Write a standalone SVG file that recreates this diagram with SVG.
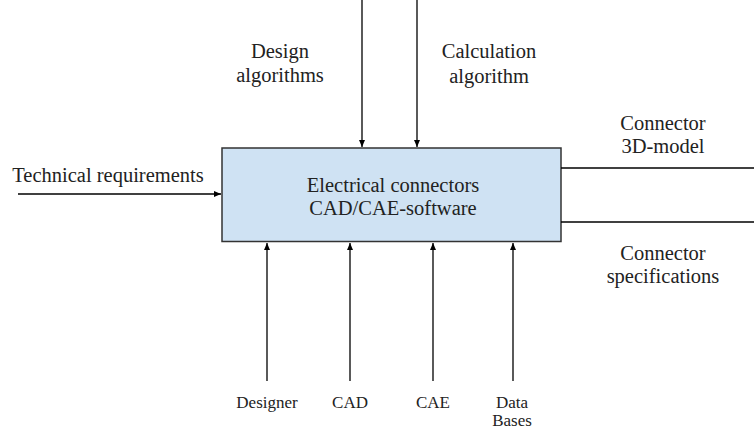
<svg xmlns="http://www.w3.org/2000/svg" width="754" height="430" viewBox="0 0 754 430">
<defs>
<marker id="arr" markerWidth="8" markerHeight="8" refX="7" refY="4" orient="auto" markerUnits="userSpaceOnUse">
<path d="M0,1 L7,4 L0,7 Z" fill="#000"/>
</marker>
<style>
.t{font-family:"Liberation Serif","Times New Roman",serif;font-size:20.5px;fill:#222;text-anchor:middle}
.s{font-family:"Liberation Serif","Times New Roman",serif;font-size:17px;fill:#222;text-anchor:middle}
.c{stroke:#000;stroke-width:1.3;fill:none}
</style>
</defs>
<rect width="754" height="430" fill="#fff"/>
<g id="main">
<rect x="222" y="148" width="339" height="93.5" fill="#cfe2f3" stroke="#333" stroke-width="1.5"/>
<text class="t" x="393" y="192">Electrical connectors</text>
<text class="t" x="393" y="215">CAD/CAE-software</text>
</g>
<g id="connectors">
<line class="c" x1="362" y1="0" x2="362" y2="147" marker-end="url(#arr)"/>
<line class="c" x1="417" y1="0" x2="417" y2="147" marker-end="url(#arr)"/>
<line class="c" x1="18" y1="194" x2="221" y2="194" marker-end="url(#arr)"/>
<line class="c" x1="561" y1="168" x2="754" y2="168"/>
<line class="c" x1="561" y1="222" x2="754" y2="222"/>
<line class="c" x1="267" y1="381" x2="267" y2="243" marker-end="url(#arr)"/>
<line class="c" x1="350" y1="381" x2="350" y2="243" marker-end="url(#arr)"/>
<line class="c" x1="433" y1="381" x2="433" y2="243" marker-end="url(#arr)"/>
<line class="c" x1="513" y1="381" x2="513" y2="243" marker-end="url(#arr)"/>
</g>
<g id="labels">
<text class="t" x="280" y="58">Design</text>
<text class="t" x="280" y="82">algorithms</text>
<text class="t" x="489" y="58">Calculation</text>
<text class="t" x="489" y="83">algorithm</text>
<text class="t" x="108" y="182">Technical requirements</text>
<text class="t" x="663" y="130">Connector</text>
<text class="t" x="663" y="153">3D-model</text>
<text class="t" x="663" y="260">Connector</text>
<text class="t" x="663" y="283">specifications</text>
<text class="s" x="267" y="408">Designer</text>
<text class="s" x="350" y="408">CAD</text>
<text class="s" x="433" y="408">CAE</text>
<text class="s" x="512" y="408">Data</text>
<text class="s" x="512" y="426">Bases</text>
</g>
</svg>
